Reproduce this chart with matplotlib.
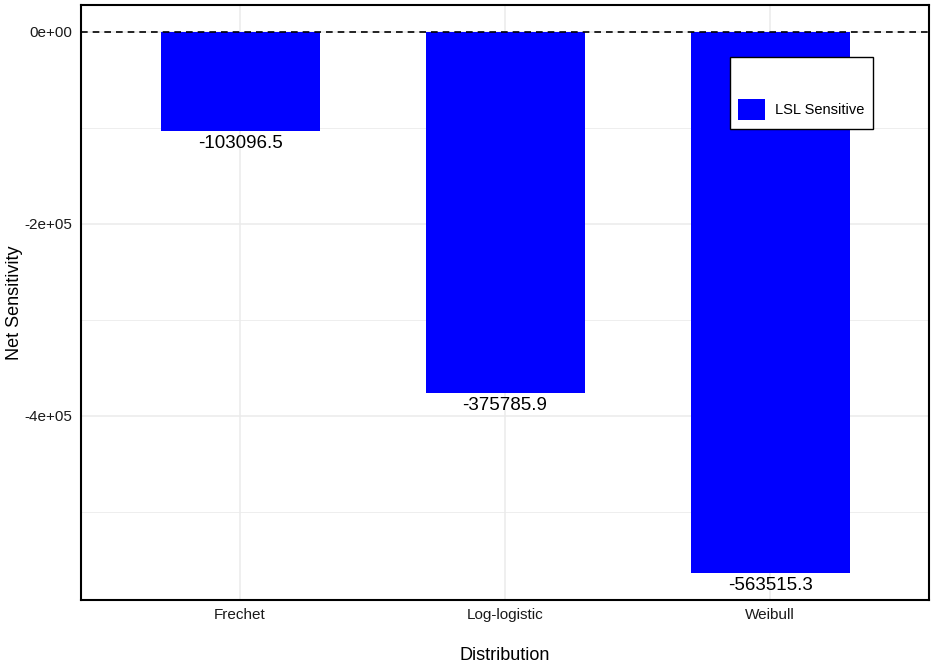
import matplotlib.pyplot as plt
from matplotlib.patches import Patch

plt.rcParams['font.family'] = ['Liberation Sans', 'DejaVu Sans']

distributions = ['Frechet', 'Log-logistic', 'Weibull']
net_sensitivity = [-103096.5, -375785.9, -563515.3]
bar_labels = ['-103096.5', '-375785.9', '-563515.3']
y_ticks = [0, -200000, -400000]
y_tick_labels = ['0e+00', '-2e+05', '-4e+05']
minor_ticks = [-100000, -300000, -500000]

fig = plt.figure(figsize=(9.35, 6.63), dpi=100)
ax = fig.add_axes([81 / 935, 63 / 663, 848 / 935, 595 / 663])

x = range(len(distributions))
ax.bar(x, net_sensitivity, width=0.6, color='#0000FF', zorder=2)

for xi, v, lab in zip(x, net_sensitivity, bar_labels):
    ax.annotate(lab, (xi, v), xytext=(0, -3), textcoords='offset points',
                ha='center', va='top', fontsize=13.5, color='black', zorder=3)

ax.axhline(0, color='black', linestyle=(0, (4, 3)), linewidth=1.2, zorder=3)

ax.set_xlim(-0.6, 2.6)
ax.set_ylim(-591700, 28100)
ax.set_xticks(list(x))
ax.set_xticklabels(distributions)
ax.set_yticks(y_ticks)
ax.set_yticklabels(y_tick_labels)
ax.set_yticks(minor_ticks, minor=True)
ax.tick_params(axis='both', which='both', length=0, labelsize=11, colors='#1a1a1a', pad=6)

ax.grid(True, which='major', color='#ebebeb', linewidth=1.1, zorder=0)
ax.grid(True, which='minor', axis='y', color='#ebebeb', linewidth=0.6, zorder=0)
ax.set_axisbelow(True)
for s in ax.spines.values():
    s.set_linewidth(1.5)
    s.set_color('black')

ax.set_xlabel('Distribution', fontsize=13, labelpad=18)
ax.set_ylabel('Net Sensitivity', fontsize=13, va='center')
ax.yaxis.set_label_coords(-0.079, 0.5)

leg = ax.legend(handles=[Patch(facecolor='#0000FF', label='LSL Sensitive')],
                title=' ', loc='upper left', bbox_to_anchor=(0.765, 0.912),
                fontsize=10.5, title_fontsize=20, frameon=True, fancybox=False,
                framealpha=1, handlelength=1.8, handleheight=1.8, handletextpad=0.7,
                borderpad=0.6, borderaxespad=0)
leg.get_frame().set_edgecolor('black')
leg.get_frame().set_linewidth(1.0)

fig.savefig('out.png', dpi=100)
